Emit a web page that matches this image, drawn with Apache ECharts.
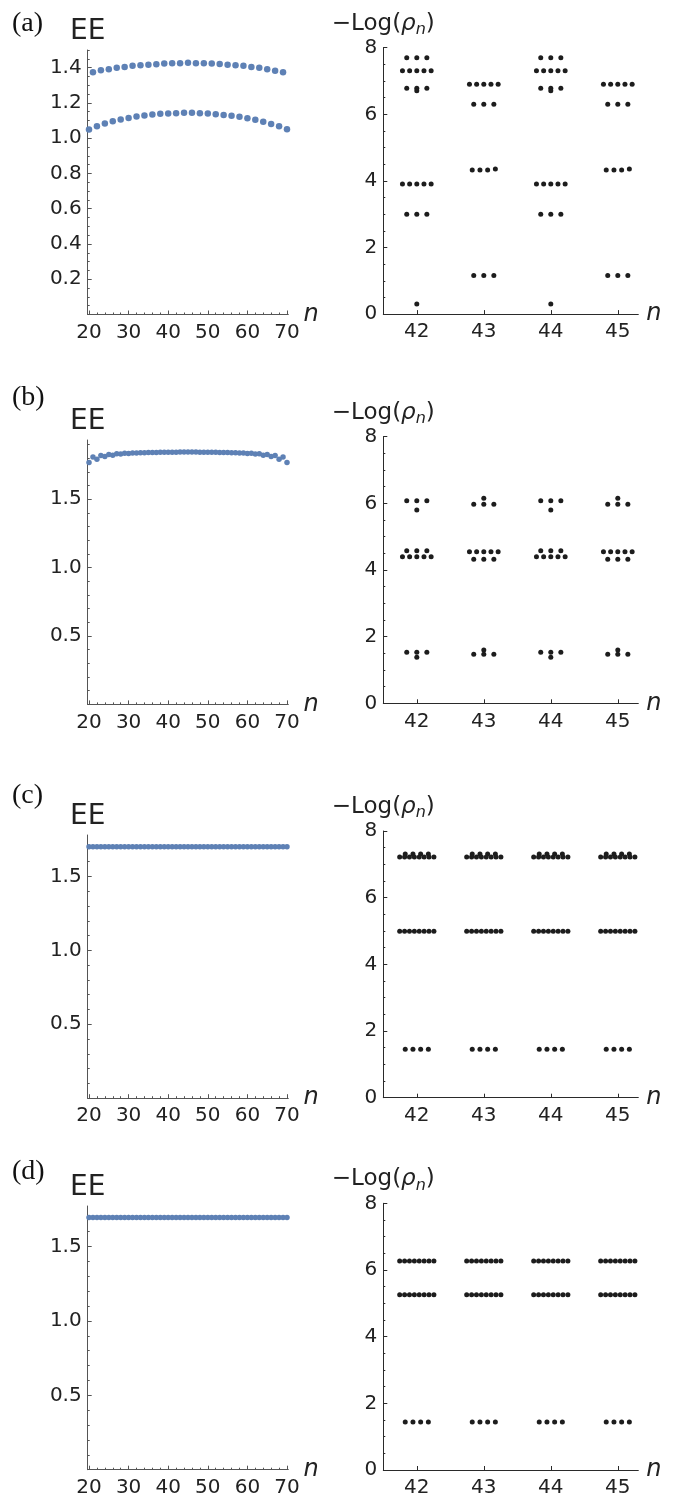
<!DOCTYPE html>
<html>
<head>
<meta charset="utf-8">
<script src="https://cdn.jsdelivr.net/npm/echarts@6/dist/echarts.min.js"></script>
<style>
html, body { margin: 0; padding: 0; background: #fff; }
#main { width: 676px; height: 1495px; }
</style>
</head>
<body>
<div id="main"></div>
<script>
// EE vs n (left column) and entanglement spectrum -Log(rho_n) (right column)

// n values for the left panels
var nEven = [20,22,24,26,28,30,32,34,36,38,40,42,44,46,48,50,52,54,56,58,60,62,64,66,68,70];
var nOdd = [21,23,25,27,29,31,33,35,37,39,41,43,45,47,49,51,53,55,57,59,61,63,65,67,69];
var nAll = [20,21,22,23,24,25,26,27,28,29,30,31,32,33,34,35,36,37,38,39,40,41,42,43,44,45,
            46,47,48,49,50,51,52,53,54,55,56,57,58,59,60,61,62,63,64,65,66,67,68,69,70];

// (a) two branches: odd n (upper) and even n (lower)
var eeUpperA = [1.374,1.385,1.391,1.399,1.404,1.410,1.414,1.417,1.419,1.423,1.425,1.425,1.427,
                1.425,1.425,1.423,1.421,1.417,1.414,1.410,1.404,1.399,1.391,1.383,1.374];
var eeLowerA = [1.049,1.068,1.083,1.096,1.106,1.115,1.123,1.128,1.134,1.138,1.140,1.142,1.144,
                1.144,1.142,1.140,1.136,1.132,1.127,1.121,1.113,1.104,1.093,1.081,1.068,1.051];
// (b) all n
var eeB = [1.768,1.808,1.793,1.819,1.812,1.827,1.822,1.832,1.830,1.837,1.835,1.838,1.838,1.840,
           1.840,1.841,1.842,1.842,1.843,1.843,1.844,1.844,1.844,1.845,1.845,1.845,1.845,1.845,
           1.844,1.844,1.844,1.843,1.843,1.842,1.842,1.841,1.840,1.840,1.838,1.838,1.835,1.837,
           1.830,1.832,1.822,1.827,1.812,1.819,1.793,1.808,1.768];
// (c), (d) flat
var eeC = [1.700,1.700,1.700,1.700,1.700,1.700,1.700,1.700,1.700,1.700,1.700,1.700,1.700,1.700,
           1.700,1.700,1.700,1.700,1.700,1.700,1.700,1.700,1.700,1.700,1.700,1.700,1.700,1.700,
           1.700,1.700,1.700,1.700,1.700,1.700,1.700,1.700,1.700,1.700,1.700,1.700,1.700,1.700,
           1.700,1.700,1.700,1.700,1.700,1.700,1.700,1.700,1.700];
var eeD = [1.695,1.695,1.695,1.695,1.695,1.695,1.695,1.695,1.695,1.695,1.695,1.695,1.695,1.695,
           1.695,1.695,1.695,1.695,1.695,1.695,1.695,1.695,1.695,1.695,1.695,1.695,1.695,1.695,
           1.695,1.695,1.695,1.695,1.695,1.695,1.695,1.695,1.695,1.695,1.695,1.695,1.695,1.695,
           1.695,1.695,1.695,1.695,1.695,1.695,1.695,1.695,1.695];

// right panels: categories, and for each one the rows of levels (one value per dot)
var specN = [42, 43, 44, 45];
var specA = [
    [[7.70,7.70,7.70],[7.31,7.31,7.31,7.31,7.31],[6.78,6.78,6.78],[6.71],
     [3.91,3.91,3.91,3.91,3.91],[3.00,3.00,3.00],[0.30]],
    [[6.90,6.90,6.90,6.90,6.90],[6.30,6.30,6.30],[4.33,4.33,4.33,4.36],[1.16,1.16,1.16]],
    [[7.70,7.70,7.70],[7.31,7.31,7.31,7.31,7.31],[6.78,6.78,6.78],[6.71],
     [3.91,3.91,3.91,3.91,3.91],[3.00,3.00,3.00],[0.30]],
    [[6.90,6.90,6.90,6.90,6.90],[6.30,6.30,6.30],[4.33,4.33,4.33,4.36],[1.16,1.16,1.16]]
];
var specB = [
    [[6.08,6.08,6.08],[5.80],[4.58,4.58,4.58],[4.40,4.40,4.40,4.40,4.40],[1.53,1.53,1.53],[1.38]],
    [[6.15],[5.97,5.97,5.97],[4.55,4.55,4.55,4.55,4.55],[4.32,4.32,4.32],[1.60],[1.47,1.47,1.47]],
    [[6.08,6.08,6.08],[5.80],[4.58,4.58,4.58],[4.40,4.40,4.40,4.40,4.40],[1.53,1.53,1.53],[1.38]],
    [[6.15],[5.97,5.97,5.97],[4.55,4.55,4.55,4.55,4.55],[4.32,4.32,4.32],[1.60],[1.47,1.47,1.47]]
];
var rowsC = [[7.31,7.31,7.31,7.31],[7.22,7.22,7.22,7.22,7.22,7.22,7.22,7.22],
             [4.99,4.99,4.99,4.99,4.99,4.99,4.99,4.99],[1.45,1.45,1.45,1.45]];
var specC = [rowsC, rowsC, rowsC, rowsC];
var rowsD = [[6.27,6.27,6.27,6.27,6.27,6.27,6.27,6.27],[5.26,5.26,5.26,5.26,5.26,5.26,5.26,5.26],
             [1.44,1.44,1.44,1.44]];
var specD = [rowsD, rowsD, rowsD, rowsD];

var panelTags = ['(a)', '(b)', '(c)', '(d)'];

// ---- layout / style ----
var BLUE = '#5E81B5';
var DOT = '#1d1d1d';
var TXT = '#222';
var FONT = '"DejaVu Sans", "Liberation Sans", sans-serif';
// horizontal step between dots of one row, by number of dots in it
var STEP = {1: 0, 2: 0.15, 3: 0.15, 4: 0.115, 5: 0.107, 6: 0.09, 8: 0.073};

function steps(a, b, d) {
    var out = [];
    for (var i = 0; a + i * d <= b + 1e-9; i++) out.push(Math.round((a + i * d) * 1000) / 1000);
    return out;
}

function spreadRows(rows, n) {
    var pts = [];
    rows.forEach(function (row) {
        var m = row.length, st = STEP[m] || 0.08;
        row.forEach(function (v, i) {
            pts.push([n + (i - (m - 1) / 2) * st, v]);
        });
    });
    return pts;
}

var option = {
    animation: false,
    backgroundColor: '#fff',
    grid: [], xAxis: [], yAxis: [], series: [], graphic: []
};

function addPanel(p) {
    var gi = option.grid.length;
    option.grid.push({left: p.left, top: p.top, width: p.width, height: p.height,
                      containLabel: false, outerBoundsMode: 'none'});
    var xi = option.xAxis.length;
    var yi = option.yAxis.length;
    option.xAxis.push({
        gridIndex: gi, type: 'value', position: 'bottom', min: p.xmin, max: p.xmax,
        axisLine: {show: true, onZero: false, lineStyle: {color: p.axisColor, width: 1}},
        axisTick: {show: true, inside: true, length: 4, customValues: p.xTicks,
                   lineStyle: {color: p.axisColor}},
        axisLabel: {show: true, customValues: p.xTicks, margin: 8, fontSize: 20,
                    fontFamily: FONT, color: TXT},
        splitLine: {show: false},
        name: 'n', nameLocation: 'end', nameGap: 8,
        nameTextStyle: {fontStyle: 'italic', fontSize: 24, fontFamily: FONT, color: TXT}
    });
    if (p.xMinor) {
        option.xAxis.push({
            gridIndex: gi, type: 'value', position: 'bottom', offset: 0,
            min: p.xmin, max: p.xmax,
            axisLine: {show: false, onZero: false},
            axisTick: {show: true, inside: true, length: 2, customValues: p.xMinor,
                       lineStyle: {color: p.axisColor}},
            axisLabel: {show: false}, splitLine: {show: false}
        });
    }
    option.yAxis.push({
        gridIndex: gi, type: 'value', position: 'left', min: 0, max: p.ymax,
        axisLine: {show: true, onZero: false, lineStyle: {color: p.axisColor, width: 1}},
        axisTick: {show: true, inside: true, length: 4, customValues: p.yTicks,
                   lineStyle: {color: p.axisColor}},
        axisLabel: {show: true, customValues: p.yLabels, margin: 6, fontSize: 20,
                    fontFamily: FONT, color: TXT, formatter: p.yFmt},
        splitLine: {show: false},
        name: p.yName, nameLocation: 'end', nameGap: p.nameGap,
        nameTextStyle: p.nameStyle
    });
    option.yAxis.push({
        gridIndex: gi, type: 'value', position: 'left', offset: 0, min: 0, max: p.ymax,
        axisLine: {show: false, onZero: false},
        axisTick: {show: true, inside: true, length: 2, customValues: p.yMinor,
                   lineStyle: {color: p.axisColor}},
        axisLabel: {show: false}, splitLine: {show: false}
    });
    return {x: xi, y: yi};
}

function pairs(xs, ys) {
    return xs.map(function (x, i) { return [x, ys[i]]; });
}

var leftTops = [50, 440, 835, 1206];
var leftHeights = [264.5, 264.4, 263.2, 263.7];
var leftMax = [1.5, 1.933, 1.78, 1.773];
var rightTops = [47.7, 436.7, 831, 1203.3];
var rightHeights = [266.4, 266.6, 266.7, 266.7];
var tagY = [24, 398, 796, 1172];

var eeSets = [
    [pairs(nOdd, eeUpperA), pairs(nEven, eeLowerA)],
    [pairs(nAll, eeB)],
    [pairs(nAll, eeC)],
    [pairs(nAll, eeD)]
];
var specSets = [specA, specB, specC, specD];

var eeName = {fontSize: 28, fontFamily: FONT, color: TXT, align: 'center', verticalAlign: 'bottom'};
var logName = {
    fontSize: 23, fontFamily: FONT, color: TXT, align: 'center', verticalAlign: 'bottom',
    rich: {
        m: {fontSize: 23, fontFamily: FONT, color: TXT, lineHeight: 28},
        r: {fontSize: 23, fontFamily: FONT, color: TXT, fontStyle: 'italic', lineHeight: 28},
        s: {fontSize: 16, fontFamily: FONT, color: TXT, fontStyle: 'italic', lineHeight: 28,
            verticalAlign: 'bottom'}
    }
};

for (var k = 0; k < 4; k++) {
    var first = k === 0;
    var L = addPanel({
        left: 87.7, top: leftTops[k], width: 200.6, height: leftHeights[k],
        xmin: 19.67, xmax: 70.33, xTicks: steps(20, 70, 10), xMinor: steps(20, 70, 2),
        ymax: leftMax[k],
        yTicks: first ? steps(0, 1.4, 0.2) : steps(0, 1.5, 0.5),
        yLabels: first ? steps(0.2, 1.4, 0.2) : steps(0.5, 1.5, 0.5),
        yMinor: first ? steps(0, 1.5, 0.05) : steps(0, leftMax[k], 0.1),
        yFmt: function (v) { return v.toFixed(1); },
        axisColor: '#555', yName: 'EE', nameGap: 4, nameStyle: eeName
    });
    eeSets[k].forEach(function (d) {
        option.series.push({
            type: 'scatter', xAxisIndex: L.x, yAxisIndex: L.y, data: d,
            symbolSize: first ? 6.5 : 5.5, itemStyle: {color: BLUE, opacity: 1}, silent: true
        });
    });

    var R = addPanel({
        left: 383.3, top: rightTops[k], width: 255, height: rightHeights[k],
        xmin: 41.5, xmax: 45.306, xTicks: specN, xMinor: null,
        ymax: 8, yTicks: steps(0, 8, 2), yLabels: steps(0, 8, 2), yMinor: steps(0, 8, 0.5),
        yFmt: function (v) { return String(v); },
        axisColor: '#2a2a2a', yName: '{m|\u2212Log(}{r|\u03C1}{s|n}{m|)}', nameGap: 3,
        nameStyle: logName
    });
    var pts = [];
    specSets[k].forEach(function (rows, ci) {
        pts = pts.concat(spreadRows(rows, specN[ci]));
    });
    option.series.push({
        type: 'scatter', xAxisIndex: R.x, yAxisIndex: R.y, data: pts,
        symbolSize: 5, itemStyle: {color: DOT, opacity: 1}, silent: true
    });

    option.graphic.push({
        type: 'text', x: 12, y: tagY[k],
        style: {text: panelTags[k], fontSize: 28, fontFamily: '"Liberation Serif", serif',
                fill: '#111', verticalAlign: 'middle'}
    });
}

var chart = echarts.init(document.getElementById('main'), null, {renderer: 'canvas'});
chart.setOption(option);
</script>
</body>
</html>
